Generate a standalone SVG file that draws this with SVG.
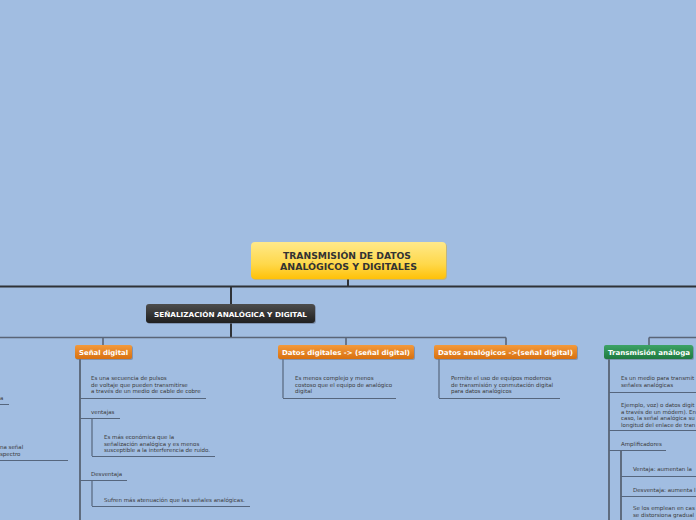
<svg xmlns="http://www.w3.org/2000/svg" width="696" height="520" viewBox="0 0 696 520">
<defs>
<linearGradient id="gY" x1="0" y1="0" x2="0" y2="1"><stop offset="0" stop-color="#ffe98a"/><stop offset="0.6" stop-color="#ffd84a"/><stop offset="1" stop-color="#ffc107"/></linearGradient>
<linearGradient id="gD" x1="0" y1="0" x2="0" y2="1"><stop offset="0" stop-color="#4d4d4d"/><stop offset="1" stop-color="#1f1f1f"/></linearGradient>
<linearGradient id="gO" x1="0" y1="0" x2="0" y2="1"><stop offset="0" stop-color="#f39a3c"/><stop offset="1" stop-color="#d8700f"/></linearGradient>
<linearGradient id="gG" x1="0" y1="0" x2="0" y2="1"><stop offset="0" stop-color="#3da365"/><stop offset="1" stop-color="#1f7a40"/></linearGradient>
</defs>
<style>
.t{font-family:"DejaVu Sans",Verdana,sans-serif;font-size:5.5px;fill:#3a3a3a}
.lb{font-family:"DejaVu Sans",Verdana,sans-serif;font-weight:bold;font-size:6.8px;fill:#ffffff}
.ttl{font-family:"DejaVu Sans",Verdana,sans-serif;font-weight:bold;font-size:8.6px;fill:#333333}
.u{stroke:#56667d;stroke-width:1.2;fill:none}
.v{stroke:#34383f;stroke-width:1.2;fill:none}
.m{stroke:#2f3237;stroke-width:2;fill:none}
.s{stroke:#5a6577;stroke-width:1.6;fill:none}
.sh{fill:#6b7892;opacity:0.6}
</style>
<rect width="696" height="520" fill="#a1bde1"/>
<g id="connectors">
<path class="m" d="M348 279V286M0 286.5H696M231 286.5V304M231 323V337"/>
<path class="s" d="M0 337.5H506M103 337.5V345M346 337.5V345M506 337.5V345M649 337.5H696M649 337.5V345"/>
<path class="v" d="M80 359V520M609 359V520M621 450V520"/>
<path class="u" d="M92 418V456M92 480V506M283 359V398M439 359V398"/>
<path class="u" d="M0 404.5H9M0 460.5H68"/>
<path class="u" d="M80 398.5H206M80 418.5H120M92 456.5H215M80 480.5H127M92 506.5H250"/>
<path class="u" d="M283 398.5H396M439 398.5H560"/>
<path class="u" d="M609 392.5H696M609 430.5H696M609 450.5H666M621 476.5H696M621 496.5H696"/>
</g>
<g id="root">
<rect x="252" y="243" width="195" height="37" rx="4" fill="#e0b020" opacity="0.5"/>
<rect x="251" y="242" width="195" height="37" rx="4" fill="url(#gY)"/>
<text class="ttl" x="283" y="259" textLength="128" lengthAdjust="spacingAndGlyphs">TRANSMISIÓN DE DATOS</text>
<text class="ttl" x="280" y="270" textLength="137" lengthAdjust="spacingAndGlyphs">ANALÓGICOS Y DIGITALES</text>
</g>
<g id="senalizacion">
<rect x="147" y="305" width="169" height="19" rx="3" class="sh"/>
<rect x="146" y="304" width="169" height="19" rx="3" fill="url(#gD)"/>
<text class="lb" x="154" y="316.5" textLength="153" lengthAdjust="spacingAndGlyphs">SEÑALIZACIÓN ANALÓGICA Y DIGITAL</text>
</g>
<g id="left-partial">
<text class="t" x="0" y="400">a</text>
<text class="t" x="0" y="449">na señal</text>
<text class="t" x="0" y="455.5">spectro</text>
</g>
<g id="senal-digital">
<rect x="76" y="346" width="57" height="14" rx="2" class="sh"/>
<rect x="75" y="345" width="57" height="14" rx="2" fill="url(#gO)"/>
<text class="lb" x="79" y="354.8" textLength="49" lengthAdjust="spacingAndGlyphs">Señal digital</text>
</g>
<g id="sd-def">
<text class="t" x="91" y="380">Es una secuencia de pulsos</text>
<text class="t" x="91" y="386.5">de voltaje que pueden transmitirse</text>
<text class="t" x="91" y="393">a través de un medio de cable de cobre</text>
</g>
<g id="ventajas"><text class="t" x="91" y="413.5">ventajas</text></g>
<g id="ventajas-txt">
<text class="t" x="104" y="439">Es más económica que la</text>
<text class="t" x="104" y="445.5">señalización analógica y es menos</text>
<text class="t" x="104" y="452">susceptible a la interferencia de ruido.</text>
</g>
<g id="desventaja"><text class="t" x="91" y="475.5">Desventaja</text></g>
<g id="desventaja-txt"><text class="t" x="104" y="501.5">Sufren más atenuación que las señales analógicas.</text></g>
<g id="datos-digitales">
<rect x="279" y="346" width="136" height="14" rx="2" class="sh"/>
<rect x="278" y="345" width="136" height="14" rx="2" fill="url(#gO)"/>
<text class="lb" x="282" y="354.8" textLength="128" lengthAdjust="spacingAndGlyphs">Datos digitales -&gt; (señal digital)</text>
</g>
<g id="dd-txt">
<text class="t" x="295" y="380">Es menos complejo y menos</text>
<text class="t" x="295" y="386.5">costoso que el equipo de analógico</text>
<text class="t" x="295" y="393"> digital</text>
</g>
<g id="datos-analogicos">
<rect x="435" y="346" width="143" height="14" rx="2" class="sh"/>
<rect x="434" y="345" width="143" height="14" rx="2" fill="url(#gO)"/>
<text class="lb" x="438" y="354.8" textLength="135" lengthAdjust="spacingAndGlyphs">Datos analógicos -&gt;(señal digital)</text>
</g>
<g id="da-txt">
<text class="t" x="451" y="380">Permite el uso de equipos modernos</text>
<text class="t" x="451" y="386.5">de transmisión y conmutación digital</text>
<text class="t" x="451" y="393">para datos analógicos</text>
</g>
<g id="transmision-analoga">
<rect x="605" y="346" width="89" height="14" rx="2" class="sh"/>
<rect x="604" y="345" width="89" height="14" rx="2" fill="url(#gG)"/>
<text class="lb" x="608" y="354.8" textLength="82" lengthAdjust="spacingAndGlyphs">Transmisión análoga</text>
</g>
<g id="ta-def">
<text class="t" x="621" y="380">Es un medio para transmit</text>
<text class="t" x="621" y="386.5">señales analógicas</text>
</g>
<g id="ta-ejemplo">
<text class="t" x="621" y="407">Ejemplo, voz) o datos digit</text>
<text class="t" x="621" y="413.5">a través de un módem). En</text>
<text class="t" x="621" y="420"> caso, la señal analógica su</text>
<text class="t" x="621" y="426.5">longitud del enlace de tran</text>
</g>
<g id="amplificadores"><text class="t" x="621" y="445.5">Amplificadores</text></g>
<g id="amp-ventaja"><text class="t" x="633" y="471">Ventaja: aumentan la</text></g>
<g id="amp-desventaja"><text class="t" x="633" y="491.5">Desventaja: aumenta l</text></g>
<g id="amp-uso">
<text class="t" x="633" y="510">Se los emplean en cas</text>
<text class="t" x="633" y="516.5">se distorsiona gradual</text>
</g>
</svg>
